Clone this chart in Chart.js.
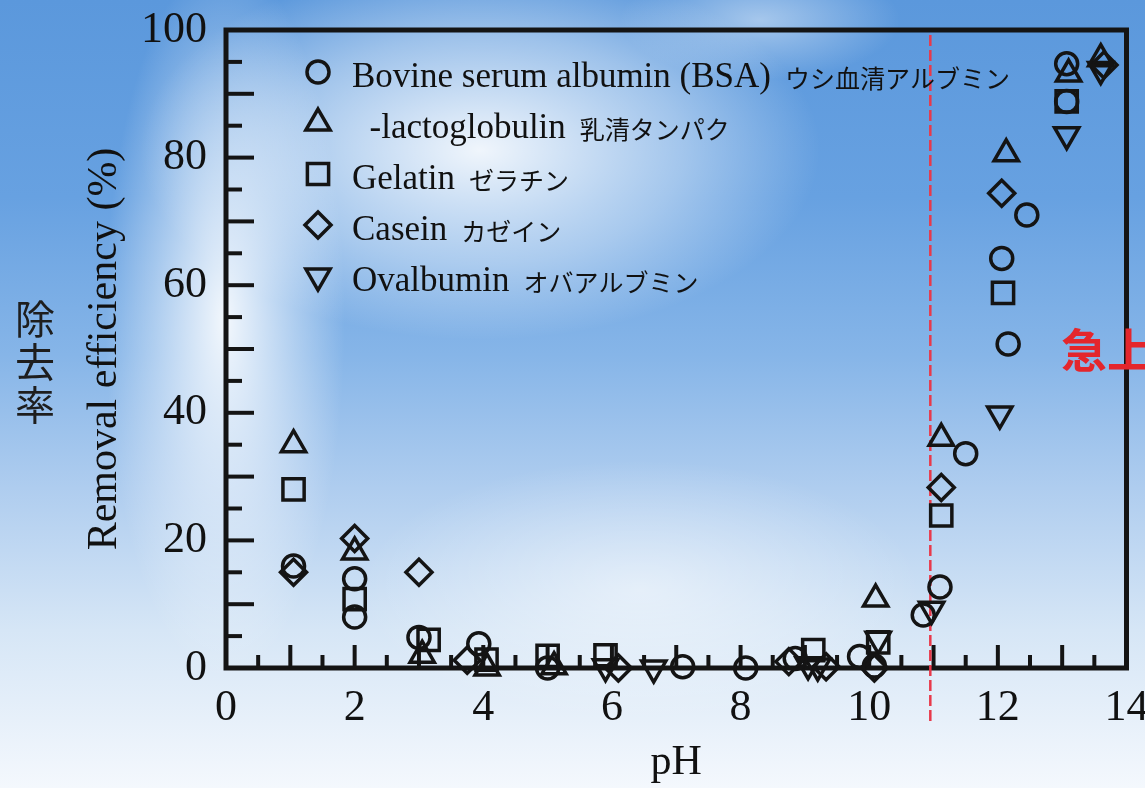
<!DOCTYPE html>
<html>
<head>
<meta charset="utf-8">
<script src="https://cdn.jsdelivr.net/npm/chart.js@4.4.1/dist/chart.umd.min.js"></script>
<style>
  html, body { margin: 0; padding: 0; width: 1145px; height: 788px; overflow: hidden; }
  body {
    position: relative;
    background: linear-gradient(to bottom, #5b98dc 0%, #67a1e1 25%, #86b5e8 45%, #afcdef 62%, #d6e6f6 80%, #f4f8fd 100%);
  }
  #bg {
    position: absolute; left: 0; top: 0; width: 1145px; height: 788px;
    background:
      radial-gradient(ellipse 120px 360px at 225px 320px, rgba(255,255,255,0.9), rgba(255,255,255,0.35) 60%, rgba(255,255,255,0) 100%),
      radial-gradient(ellipse 340px 190px at 480px 150px, rgba(255,255,255,0.9), rgba(255,255,255,0.4) 60%, rgba(255,255,255,0) 100%),
      radial-gradient(ellipse 140px 60px at 760px 20px, rgba(255,255,255,0.45), rgba(255,255,255,0) 100%),
      radial-gradient(ellipse 280px 130px at 640px 590px, rgba(255,255,255,0.5), rgba(255,255,255,0) 100%);
  }
  #wrap { position: absolute; left: 0; top: 0; width: 1145px; height: 788px; }
  #jaTitle {
    position: absolute; left: 12px; top: 296px; width: 46px;
    font: 40px "Noto Sans CJK JP"; line-height: 43px; color: #1e1e1e; text-align: center;
  }
  #note {
    position: absolute; left: 1061px; top: 314px;
    font: bold 46px "Noto Sans CJK JP"; color: #e4262c; white-space: nowrap;
  }
</style>
</head>
<body>
<div id="bg"></div>
<div id="wrap"><canvas id="c" width="1145" height="788"></canvas></div>
<div id="jaTitle">除<br>去<br>率</div>
<div id="note">急上昇</div>
<script>
// ---- data ----
const seriesNames   = ['Bovine serum albumin (BSA)', '\u2002-lactoglobulin', 'Gelatin', 'Casein', 'Ovalbumin'];
const seriesNamesJa = ['ウシ血清アルブミン', '乳清タンパク', 'ゼラチン', 'カゼイン', 'オバアルブミン'];

const bsaPH  = [1.05, 2.0, 2.0, 3.0, 3.93, 5.0, 7.1, 8.08, 8.85, 9.85, 10.08, 10.84, 11.1, 11.5, 12.06, 12.16, 12.45, 13.07, 13.07];
const bsaEff = [16, 14, 8, 4.8, 3.8, 0, 0.2, 0, 1.5, 1.8, 0.3, 8.3, 12.7, 33.6, 64.2, 50.8, 71, 94.7, 88.8];

const lacPH  = [1.05, 2.0, 3.05, 4.06, 5.1, 10.1, 11.12, 12.13, 13.1, 13.6];
const lacEff = [35, 18.2, 2.0, 0, 0.2, 10.8, 36, 80.6, 93.1, 95.5];

const gelPH  = [1.05, 2.0, 3.15, 4.05, 5.0, 5.9, 9.13, 10.14, 11.12, 12.08, 13.07];
const gelEff = [28, 10.8, 4.4, 1.3, 1.9, 2.0, 2.8, 4.0, 23.9, 58.8, 88.8];

const casPH  = [1.05, 2.0, 3.0, 3.75, 6.1, 8.75, 9.33, 10.08, 11.12, 12.06, 13.65];
const casEff = [15, 20.3, 15, 1.2, 0, 1.0, 0.2, 0, 28.3, 74.4, 94.5];

const ovaPH  = [5.9, 6.65, 9.05, 9.2, 10.14, 10.97, 12.03, 13.07, 13.6];
const ovaEff = [0.2, 0, 0.5, 0.3, 4.5, 9.2, 39.8, 83.6, 93.8];

const xTickLabels = [0, 2, 4, 6, 8, 10, 12, 14];
const yTickLabels = [0, 20, 40, 60, 80, 100];
const boundaryPH = 10.95;

// ---- build ----
const zip = (xs, ys) => xs.map((x, i) => ({ x: x, y: ys[i] }));
const ink = '#141414';
const styles = [
  { pointStyle: 'circle',   rotation: 0,   radius: 11 },
  { pointStyle: 'triangle', rotation: 0,   radius: 14 },
  { pointStyle: 'rect',     rotation: 0,   radius: 15 },
  { pointStyle: 'rectRot',  rotation: 0,   radius: 13 },
  { pointStyle: 'triangle', rotation: 180, radius: 14 }
];
const seriesData = [zip(bsaPH, bsaEff), zip(lacPH, lacEff), zip(gelPH, gelEff), zip(casPH, casEff), zip(ovaPH, ovaEff)];

const datasets = seriesData.map((d, i) => ({
  label: seriesNames[i] + ' ' + seriesNamesJa[i],
  data: d,
  pointStyle: styles[i].pointStyle,
  pointRotation: styles[i].rotation,
  pointRadius: styles[i].radius,
  pointBorderWidth: 3.5,
  pointBorderColor: ink,
  pointBackgroundColor: 'rgba(0,0,0,0)',
  borderColor: ink,
  backgroundColor: 'rgba(0,0,0,0)',
  showLine: false,
  clip: false
}));

const framePlugin = {
  id: 'frame',
  beforeDatasetsDraw(chart) {
    const { ctx, chartArea: a, scales: { x, y } } = chart;
    ctx.save();
    ctx.strokeStyle = ink;
    ctx.lineWidth = 4;
    ctx.lineCap = 'butt';
    x.ticks.forEach(t => {
      const v = t.value;
      if (v <= x.min || v >= x.max) return;
      const px = x.getPixelForValue(v);
      const len = Math.abs(v - Math.round(v)) < 1e-6 ? 23 : 13;
      ctx.beginPath(); ctx.moveTo(px, a.bottom); ctx.lineTo(px, a.bottom - len); ctx.stroke();
    });
    y.ticks.forEach(t => {
      const v = t.value;
      if (v <= y.min || v >= y.max) return;
      const py = y.getPixelForValue(v);
      const len = Math.abs(v % 10) < 1e-6 ? 28 : 16;
      ctx.beginPath(); ctx.moveTo(a.left, py); ctx.lineTo(a.left + len, py); ctx.stroke();
    });
    ctx.lineWidth = 5;
    ctx.strokeRect(a.left, a.top, a.right - a.left, a.bottom - a.top);

    // red dashed boundary
    const bx = x.getPixelForValue(boundaryPH);
    ctx.strokeStyle = '#e8394a';
    ctx.lineWidth = 2.5;
    ctx.setLineDash([11, 4]);
    ctx.beginPath(); ctx.moveTo(bx, a.top + 5); ctx.lineTo(bx, a.bottom + 54); ctx.stroke();
    ctx.restore();
  },
  afterDatasetsDraw(chart) {
    const { ctx, chartArea: a } = chart;
    ctx.save();
    const mx = a.left + 92, tx = a.left + 126;
    chart.data.datasets.forEach((ds, i) => {
      const my = a.top + 42 + i * 51;
      ctx.strokeStyle = ink;
      ctx.fillStyle = 'rgba(0,0,0,0)';
      ctx.lineWidth = 3.5;
      if (Chart.helpers && Chart.helpers.drawPoint) {
        Chart.helpers.drawPoint(ctx, { pointStyle: ds.pointStyle, rotation: ds.pointRotation, radius: ds.pointRadius, borderWidth: 3.5 }, mx, my);
      }
      const base = my + 15;
      ctx.fillStyle = '#111';
      ctx.textBaseline = 'alphabetic';
      ctx.textAlign = 'left';
      ctx.font = '35px "Liberation Serif"';
      ctx.fillText(seriesNames[i], tx, base);
      const w = ctx.measureText(seriesNames[i]).width;
      ctx.font = '25px "Noto Sans CJK JP"';
      ctx.fillText(seriesNamesJa[i], tx + w + 14, base + 1);
    });
    ctx.restore();
  }
};

new Chart(document.getElementById('c'), {
  type: 'scatter',
  data: { datasets: datasets },
  plugins: [framePlugin],
  options: {
    responsive: false,
    devicePixelRatio: 1,
    animation: false,
    events: [],
    layout: { padding: { top: 30, right: 18, left: 0, bottom: 0 } },
    plugins: { legend: { display: false }, tooltip: { enabled: false } },
    scales: {
      x: {
        type: 'linear', min: 0, max: 14,
        grid: { display: false },
        border: { display: false },
        ticks: {
          stepSize: 0.5, autoSkip: false, maxRotation: 0, padding: 6, color: '#111',
          font: { family: 'Liberation Serif', size: 44 },
          callback: v => (xTickLabels.includes(v) ? String(v) : '')
        },
        title: { display: true, text: 'pH', color: '#111', font: { family: 'Liberation Serif', size: 42 }, padding: { top: 0, bottom: 0 } },
        afterFit: s => { s.height = 120; s.paddingLeft = 0; s.paddingRight = 0; }
      },
      y: {
        type: 'linear', min: 0, max: 100,
        grid: { display: false },
        border: { display: false },
        ticks: {
          stepSize: 5, autoSkip: false, padding: 11, color: '#111',
          font: { family: 'Liberation Serif', size: 44 },
          callback: v => (yTickLabels.includes(v) ? String(v) : '')
        },
        title: { display: true, text: 'Removal efficiency (%)', color: '#111', font: { family: 'Liberation Serif', size: 42 }, padding: { top: 80, bottom: 0 } },
        afterFit: s => { s.width = 226; s.paddingTop = 0; s.paddingBottom = 0; }
      }
    }
  }
});
</script>
</body>
</html>
